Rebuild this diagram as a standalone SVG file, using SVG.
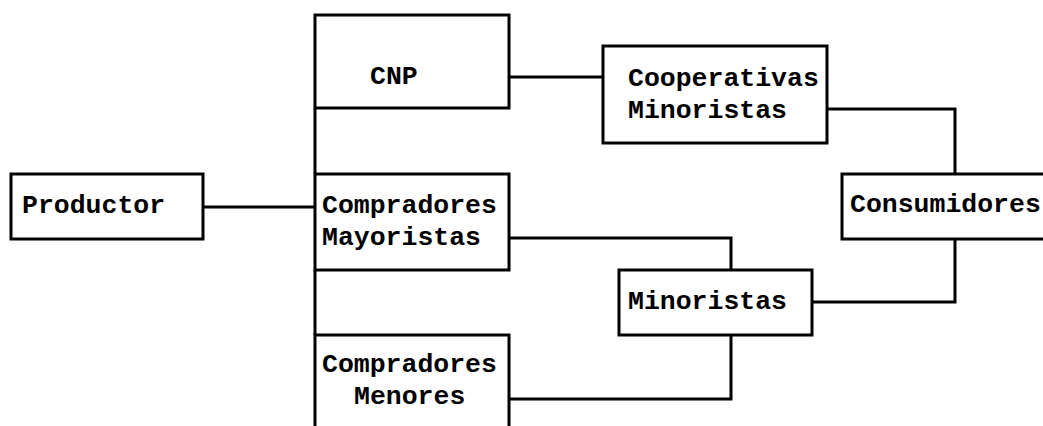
<svg xmlns="http://www.w3.org/2000/svg" width="1043" height="426" viewBox="0 0 1043 426">
<style>
.box{fill:#fff;stroke:#000;stroke-width:3}
.lbl{font-family:"Liberation Mono","DejaVu Sans Mono",monospace;font-weight:bold;font-size:26.5px;fill:#000}
.conn{fill:none;stroke:#000;stroke-width:3}
</style>
<rect width="1043" height="426" fill="#fff"/>
<g id="connectors">
<path class="conn" d="M203,207 H315"/>
<path class="conn" d="M315,108 V174"/>
<path class="conn" d="M315,270 V335"/>
<path class="conn" d="M509,77 H603"/>
<path class="conn" d="M827,109 H955 V174"/>
<path class="conn" d="M509,238 H731 V270"/>
<path class="conn" d="M812,302 H955 V239"/>
<path class="conn" d="M731,335 V399 H509"/>
</g>
<g id="productor">
<rect class="box" x="11" y="174" width="192" height="65"/>
<text class="lbl" x="22" y="213">Productor</text>
</g>
<g id="cnp">
<rect class="box" x="315" y="15" width="194" height="93"/>
<text class="lbl" x="370" y="84">CNP</text>
</g>
<g id="compradores-mayoristas">
<rect class="box" x="315" y="174" width="194" height="96"/>
<text class="lbl" x="322" y="213">Compradores</text>
<text class="lbl" x="322" y="245">Mayoristas</text>
</g>
<g id="compradores-menores">
<rect class="box" x="315" y="335" width="194" height="100"/>
<text class="lbl" x="322" y="372">Compradores</text>
<text class="lbl" x="354" y="404">Menores</text>
</g>
<g id="cooperativas-minoristas">
<rect class="box" x="603" y="46" width="224" height="97"/>
<text class="lbl" x="628" y="86">Cooperativas</text>
<text class="lbl" x="628" y="118">Minoristas</text>
</g>
<g id="consumidores">
<rect class="box" x="842" y="174" width="220" height="65"/>
<text class="lbl" x="850" y="212">Consumidores</text>
</g>
<g id="minoristas">
<rect class="box" x="619" y="270" width="193" height="65"/>
<text class="lbl" x="628" y="309">Minoristas</text>
</g>
</svg>
